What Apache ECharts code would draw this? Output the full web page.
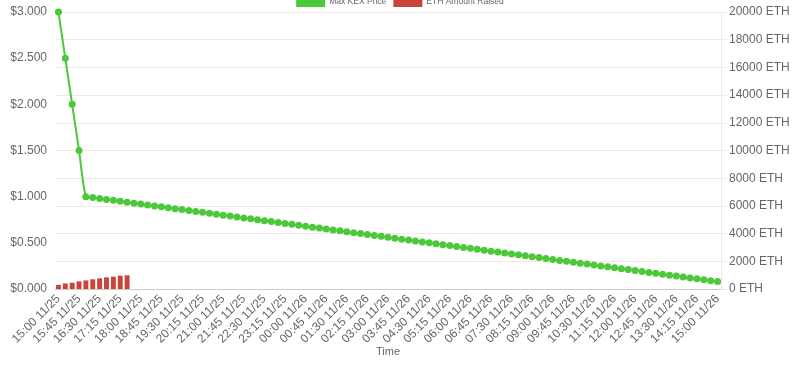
<!DOCTYPE html>
<html>
<head>
<meta charset="utf-8">
<title>KEX auction</title>
<script src="https://cdn.jsdelivr.net/npm/echarts@6/dist/echarts.min.js"></script>
<style>
  html, body { margin: 0; padding: 0; background: #fff; }
  #main { width: 800px; height: 365px; }
</style>
</head>
<body>
<div id="main"></div>
<script>
// time slots, one every 15 minutes
var timeLabels = [
  '15:00 11/25', '15:15 11/25', '15:30 11/25', '15:45 11/25',
  '16:00 11/25', '16:15 11/25', '16:30 11/25', '16:45 11/25',
  '17:00 11/25', '17:15 11/25', '17:30 11/25', '17:45 11/25',
  '18:00 11/25', '18:15 11/25', '18:30 11/25', '18:45 11/25',
  '19:00 11/25', '19:15 11/25', '19:30 11/25', '19:45 11/25',
  '20:00 11/25', '20:15 11/25', '20:30 11/25', '20:45 11/25',
  '21:00 11/25', '21:15 11/25', '21:30 11/25', '21:45 11/25',
  '22:00 11/25', '22:15 11/25', '22:30 11/25', '22:45 11/25',
  '23:00 11/25', '23:15 11/25', '23:30 11/25', '23:45 11/25',
  '00:00 11/26', '00:15 11/26', '00:30 11/26', '00:45 11/26',
  '01:00 11/26', '01:15 11/26', '01:30 11/26', '01:45 11/26',
  '02:00 11/26', '02:15 11/26', '02:30 11/26', '02:45 11/26',
  '03:00 11/26', '03:15 11/26', '03:30 11/26', '03:45 11/26',
  '04:00 11/26', '04:15 11/26', '04:30 11/26', '04:45 11/26',
  '05:00 11/26', '05:15 11/26', '05:30 11/26', '05:45 11/26',
  '06:00 11/26', '06:15 11/26', '06:30 11/26', '06:45 11/26',
  '07:00 11/26', '07:15 11/26', '07:30 11/26', '07:45 11/26',
  '08:00 11/26', '08:15 11/26', '08:30 11/26', '08:45 11/26',
  '09:00 11/26', '09:15 11/26', '09:30 11/26', '09:45 11/26',
  '10:00 11/26', '10:15 11/26', '10:30 11/26', '10:45 11/26',
  '11:00 11/26', '11:15 11/26', '11:30 11/26', '11:45 11/26',
  '12:00 11/26', '12:15 11/26', '12:30 11/26', '12:45 11/26',
  '13:00 11/26', '13:15 11/26', '13:30 11/26', '13:45 11/26',
  '14:00 11/26', '14:15 11/26', '14:30 11/26', '14:45 11/26',
  '15:00 11/26'
];

// max KEX price in $
var maxPrice = [
  3.00, 2.50, 2.00, 1.50,
  1.00, 0.99, 0.98, 0.97, 0.96, 0.95, 0.94, 0.93,
  0.92, 0.91, 0.90, 0.89, 0.88, 0.87, 0.86, 0.85,
  0.84, 0.83, 0.82, 0.81, 0.80, 0.79, 0.78, 0.77,
  0.76, 0.75, 0.74, 0.73, 0.72, 0.71, 0.70, 0.69,
  0.68, 0.67, 0.66, 0.65, 0.64, 0.63, 0.62, 0.61,
  0.60, 0.59, 0.58, 0.57, 0.56, 0.55, 0.54, 0.53,
  0.52, 0.51, 0.50, 0.49, 0.48, 0.47, 0.46, 0.45,
  0.44, 0.43, 0.42, 0.41, 0.40, 0.39, 0.38, 0.37,
  0.36, 0.35, 0.34, 0.33, 0.32, 0.31, 0.30, 0.29,
  0.28, 0.27, 0.26, 0.25, 0.24, 0.23, 0.22, 0.21,
  0.20, 0.19, 0.18, 0.17, 0.16, 0.15, 0.14, 0.13,
  0.12, 0.11, 0.10, 0.09, 0.08
];

// ETH raised so far (only the first slots have data)
var ethRaised = [300, 400, 450, 550, 620, 700, 770, 840, 890, 960, 990];

var priceTicks = { min: 0, max: 3, interval: 0.5 };
var ethTicks = { min: 0, max: 20000, interval: 2000 };

var myChart = echarts.init(document.getElementById('main'));

var font = 'Liberation Sans, Arial, Helvetica, sans-serif';

myChart.setOption({
    animation: false,
    textStyle: { fontFamily: font },
    legend: {
        top: -3,
        left: 'center',
        padding: 0,
        itemWidth: 29,
        itemHeight: 10,
        itemGap: 7,
        icon: 'rect',
        textStyle: { color: '#666', fontSize: 8.5, fontFamily: font, padding: [0, 0, 0, -1] },
        data: ['Max KEX Price', 'ETH Amount Raised']
    },
    grid: { left: 55, right: 79, top: 12, bottom: 76, outerBoundsMode: 'none' },
    xAxis: {
        type: 'category',
        data: timeLabels,
        boundaryGap: true,
        name: 'Time',
        nameLocation: 'middle',
        nameGap: 57,
        nameMoveOverlap: false,
        nameTextStyle: { color: '#666', fontSize: 11 },
        axisLine: { lineStyle: { color: '#ccc' } },
        axisTick: { show: false },
        axisLabel: {
            interval: 2,
            rotate: 45,
            margin: 8,
            color: '#666',
            fontSize: 12
        },
        splitLine: { show: false }
    },
    yAxis: [
        {
            type: 'value',
            position: 'left',
            min: priceTicks.min,
            max: priceTicks.max,
            interval: priceTicks.interval,
            axisLine: { show: false },
            axisTick: { show: false },
            splitLine: { show: false },
            axisLabel: {
                color: '#666',
                fontSize: 12,
                margin: 8,
                formatter: function (v) { return '$' + v.toFixed(3); }
            }
        },
        {
            type: 'value',
            position: 'right',
            min: ethTicks.min,
            max: ethTicks.max,
            interval: ethTicks.interval,
            axisLine: { show: true, lineStyle: { color: '#f9e4e6' } },
            axisTick: { show: true, length: 6, lineStyle: { color: '#f9e4e6' } },
            splitLine: { show: true, lineStyle: { color: '#f9e4e6' } },
            axisLabel: {
                color: '#666',
                fontSize: 12,
                margin: 8,
                formatter: function (v) { return v + ' ETH'; }
            }
        }
    ],
    series: [
        {
            name: 'Max KEX Price',
            type: 'line',
            yAxisIndex: 0,
            data: maxPrice,
            smooth: 0.2,
            showAllSymbol: true,
            symbol: 'circle',
            symbolSize: 7,
            itemStyle: { color: '#4cc83b' },
            lineStyle: { color: '#4cc83b', width: 2 },
            z: 3
        },
        {
            name: 'ETH Amount Raised',
            type: 'bar',
            yAxisIndex: 1,
            data: ethRaised,
            barCategoryGap: '28%',
            itemStyle: { color: '#c9453b' },
            z: 2
        }
    ]
});
</script>
</body>
</html>
